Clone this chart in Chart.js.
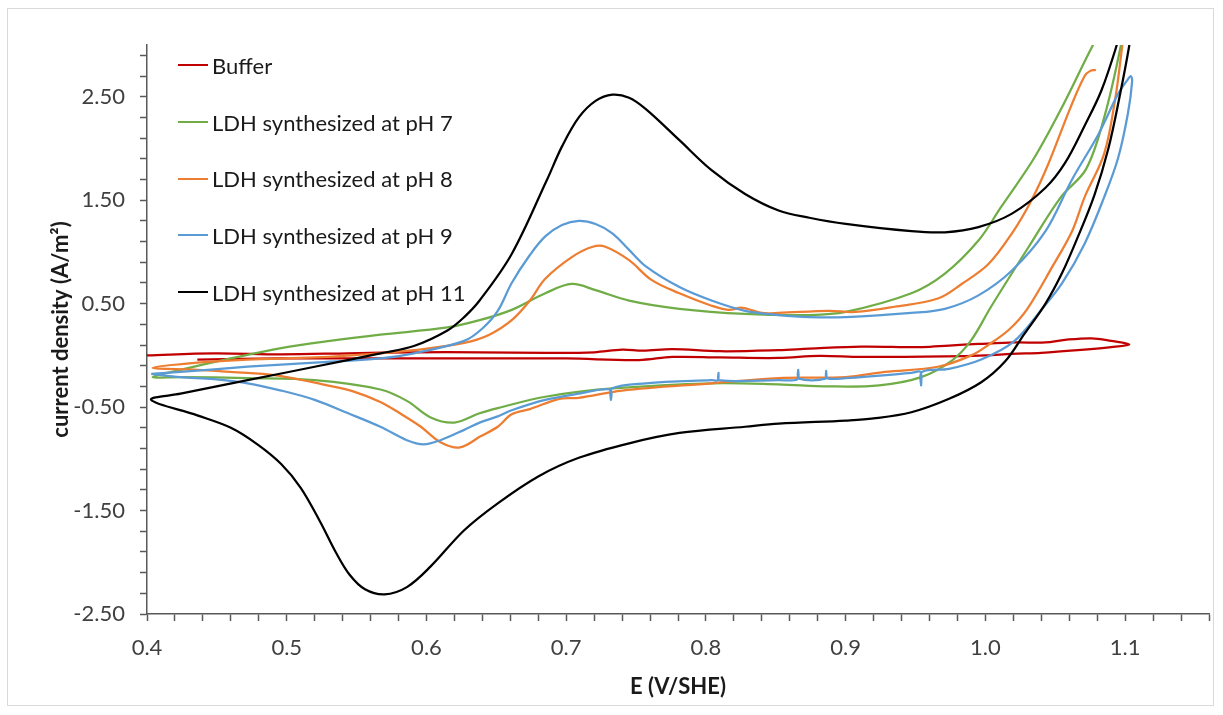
<!DOCTYPE html>
<html>
<head>
<meta charset="utf-8">
<script src="https://cdn.jsdelivr.net/npm/chart.js@4.4.1/dist/chart.umd.min.js"></script>
<style>
    body { margin: 0; background: #fff; }
    #wrap { position: relative; width: 1223px; height: 715px; font-family: Lato, "Open Sans", sans-serif; }
    #frame { position: absolute; left: 7px; top: 8px; width: 1207px; height: 698px; border: 1px solid #d9d9d9; box-sizing: border-box; }
    #cv { position: absolute; left: 0; top: 0; }
    #legend { position: absolute; left: 178px; top: 37px; }
    .item { display: flex; align-items: center; height: 56.7px; font-size: 22px; color: #1a1a1a; }
    .swatch { width: 30px; height: 2px; margin-right: 4px; }
</style>
</head>
<body>
<div id="wrap">
    <div id="frame"></div>
    <canvas id="cv" width="1223" height="715"></canvas>
    <div id="legend"></div>
</div>
<script>
// Cyclic voltammograms, current density vs E (V/SHE)

const seriesNames = ['Buffer', 'LDH synthesized at pH 7', 'LDH synthesized at pH 8', 'LDH synthesized at pH 9', 'LDH synthesized at pH 11'];
const seriesColors = ['#C00000', '#70AD47', '#ED7D31', '#5B9BD5', '#000000'];

const xLabelTicks = [0.4, 0.5, 0.6, 0.7, 0.8, 0.9, 1.0, 1.1];
const yLabelTicks = [-2.5, -1.5, -0.5, 0.5, 1.5, 2.5];

// [E, j] pairs traced along each loop
const bufferLoop = [
    [0.436, -0.04], [0.496, -0.03], [0.567, -0.03], [0.638, -0.03], [0.70, -0.03], [0.752, -0.045],
    [0.776, -0.015], [0.81, -0.02], [0.852, -0.025], [0.881, -0.005], [0.911, -0.015], [0.971, -0.01],
    [1.0, 0.0], [1.019, 0.015], [1.04, 0.025], [1.066, 0.05], [1.09, 0.08], [1.103, 0.106],
    [1.09, 0.14], [1.076, 0.165], [1.057, 0.15], [1.043, 0.125], [1.021, 0.125], [0.995, 0.11],
    [0.974, 0.095], [0.955, 0.08], [0.911, 0.085], [0.874, 0.065], [0.852, 0.05], [0.81, 0.04],
    [0.776, 0.06], [0.755, 0.045], [0.74, 0.055], [0.72, 0.03], [0.685, 0.025], [0.638, 0.03],
    [0.591, 0.03], [0.544, 0.02], [0.496, 0.01], [0.448, 0.02], [0.40, 0.0]
];

const ph7Loop = [
    [1.100, 3.3], [1.097, 3.0], [1.085, 2.3], [1.072, 1.8], [1.054, 1.53], [1.031, 1.05],
    [1.004, 0.47], [0.990, 0.15], [0.976, -0.05], [0.954, -0.21], [0.924, -0.29], [0.888, -0.30],
    [0.852, -0.28], [0.804, -0.27], [0.733, -0.32], [0.685, -0.40], [0.651, -0.51], [0.638, -0.56],
    [0.62, -0.65], [0.603, -0.60], [0.586, -0.44], [0.567, -0.33], [0.52, -0.24], [0.472, -0.22],
    [0.424, -0.21], [0.404, -0.21],
    [0.424, -0.14], [0.46, -0.03], [0.496, 0.07], [0.531, 0.14], [0.567, 0.20], [0.615, 0.27],
    [0.638, 0.34], [0.661, 0.44], [0.685, 0.60], [0.704, 0.69], [0.721, 0.63], [0.745, 0.53],
    [0.781, 0.45], [0.828, 0.40], [0.874, 0.39], [0.90, 0.42], [0.947, 0.60], [0.971, 0.79],
    [0.995, 1.11], [1.011, 1.43], [1.035, 1.91], [1.056, 2.43], [1.077, 3.0], [1.09, 3.3]
];

const ph8Loop = [
    [1.101, 3.3], [1.098, 3.0], [1.093, 2.49], [1.085, 1.95], [1.071, 1.53], [1.062, 1.2],
    [1.048, 0.86], [1.030, 0.45], [1.017, 0.25], [1.002, 0.10], [0.99, 0.0], [0.966, -0.11],
    [0.928, -0.16], [0.90, -0.21], [0.852, -0.22], [0.804, -0.27], [0.74, -0.34], [0.709, -0.41],
    [0.695, -0.42], [0.674, -0.52], [0.661, -0.57], [0.651, -0.69], [0.639, -0.78], [0.624, -0.89],
    [0.61, -0.84], [0.596, -0.69], [0.581, -0.56], [0.567, -0.45], [0.548, -0.35], [0.529, -0.29],
    [0.496, -0.20], [0.472, -0.17], [0.436, -0.14], [0.404, -0.12],
    [0.436, -0.07], [0.472, -0.04], [0.52, -0.02], [0.567, 0.02], [0.591, 0.05], [0.627, 0.12],
    [0.645, 0.20], [0.661, 0.34], [0.674, 0.53], [0.685, 0.74], [0.704, 0.95],
    [0.719, 1.05], [0.728, 1.05], [0.745, 0.92], [0.761, 0.73], [0.781, 0.60], [0.804, 0.48],
    [0.816, 0.44], [0.826, 0.46], [0.84, 0.41], [0.852, 0.41], [0.888, 0.43], [0.907, 0.42],
    [0.935, 0.47], [0.966, 0.55], [0.983, 0.69], [1.002, 0.88], [1.019, 1.18], [1.033, 1.50],
    [1.045, 1.85], [1.061, 2.40], [1.071, 2.70], [1.075, 2.75], [1.079, 2.76]
];

const ph9Loop = [
    [0.403, -0.18], [0.424, -0.16], [0.472, -0.11], [0.52, -0.07], [0.567, -0.03], [0.591, 0.02],
    [0.627, 0.14], [0.640, 0.26], [0.651, 0.43], [0.661, 0.70], [0.674, 0.97], [0.685, 1.15],
    [0.697, 1.26], [0.709, 1.30], [0.721, 1.27], [0.733, 1.18], [0.745, 1.02], [0.757, 0.86],
    [0.781, 0.66], [0.804, 0.53], [0.828, 0.43], [0.852, 0.39], [0.874, 0.37], [0.90, 0.37],
    [0.947, 0.41], [0.971, 0.45], [0.995, 0.58], [1.019, 0.82], [1.043, 1.20], [1.062, 1.70],
    [1.081, 2.14], [1.095, 2.53], [1.101, 2.65], [1.104, 2.70],
    [1.105, 2.65], [1.102, 2.34], [1.095, 1.91], [1.085, 1.53], [1.071, 1.08], [1.055, 0.70],
    [1.040, 0.44], [1.020, 0.13], [0.997, -0.04], [0.974, -0.13], [0.9545, -0.16], [0.954, -0.29],
    [0.9535, -0.16], [0.947, -0.17], [0.90, -0.22], [0.8865, -0.22], [0.886, -0.15], [0.8855, -0.225],
    [0.8665, -0.225], [0.866, -0.14], [0.8655, -0.23], [0.852, -0.24], [0.8095, -0.24], [0.809, -0.17],
    [0.8085, -0.24], [0.804, -0.24], [0.757, -0.27], [0.7325, -0.32], [0.732, -0.43], [0.7315, -0.33],
    [0.709, -0.37], [0.685, -0.43], [0.661, -0.53], [0.651, -0.59], [0.638, -0.65], [0.627, -0.72],
    [0.61, -0.82], [0.598, -0.86], [0.586, -0.82], [0.567, -0.69], [0.544, -0.56], [0.52, -0.43],
    [0.496, -0.34], [0.472, -0.27], [0.448, -0.23], [0.424, -0.21], [0.403, -0.18]
];

const ph11Loop = [
    [1.106, 3.3], [1.103, 3.0], [1.096, 2.5], [1.088, 2.0], [1.078, 1.55], [1.066, 1.14],
    [1.055, 0.80], [1.043, 0.50], [1.028, 0.21], [1.014, -0.06], [0.997, -0.26], [0.974, -0.42],
    [0.947, -0.55], [0.92, -0.61], [0.90, -0.63], [0.852, -0.66], [0.828, -0.69], [0.781, -0.75],
    [0.745, -0.85], [0.709, -0.99], [0.68, -1.17], [0.651, -1.43], [0.627, -1.69], [0.603, -2.04],
    [0.586, -2.24], [0.570, -2.31], [0.556, -2.26], [0.545, -2.12], [0.535, -1.90], [0.524, -1.61],
    [0.51, -1.28], [0.496, -1.05], [0.479, -0.86], [0.46, -0.70], [0.436, -0.58], [0.403, -0.43],
    [0.424, -0.37], [0.472, -0.24], [0.52, -0.11], [0.567, 0.02], [0.591, 0.09], [0.615, 0.24],
    [0.627, 0.37], [0.638, 0.53], [0.661, 0.98], [0.686, 1.69], [0.697, 2.02], [0.709, 2.30],
    [0.721, 2.46], [0.733, 2.52], [0.745, 2.49], [0.757, 2.38], [0.781, 2.08], [0.804, 1.79],
    [0.828, 1.56], [0.852, 1.40], [0.874, 1.33], [0.90, 1.27], [0.947, 1.20], [0.971, 1.19],
    [0.995, 1.24], [1.019, 1.37], [1.043, 1.62], [1.057, 1.86], [1.071, 2.22], [1.083, 2.56],
    [1.094, 3.0], [1.10, 3.3]
];

const loops = [bufferLoop, ph7Loop, ph8Loop, ph9Loop, ph11Loop];

const FONT = 'Lato, "Open Sans", sans-serif';
const AXIS_COLOR = '#595959';

function sameValue(a, b) {
    return Math.abs(a - b) < 1e-6;
}

function buildTicks(min, max, step) {
    const ticks = [];
    const n = Math.round((max - min) / step);
    for (let i = 0; i <= n; i++) {
        ticks.push({ value: Math.round((min + i * step) * 1000) / 1000 });
    }
    return ticks;
}

// HTML legend inside the plot area
const legendEl = document.getElementById('legend');
seriesNames.forEach((name, i) => {
    const row = document.createElement('div');
    row.className = 'item';
    row.innerHTML = `<span class="swatch" style="background:${seriesColors[i]}"></span><span>${name}</span>`;
    legendEl.appendChild(row);
});

const datasets = loops.map((loop, i) => ({
    label: seriesNames[i],
    data: loop.map(p => ({ x: p[0], y: p[1] })),
    borderColor: seriesColors[i],
    backgroundColor: seriesColors[i],
    borderWidth: 2.25,
    showLine: true,
    pointRadius: 0,
    tension: 0.35,
    order: loops.length - 1 - i // later series drawn on top
}));

const ctx = document.getElementById('cv').getContext('2d');
new Chart(ctx, {
    type: 'scatter',
    data: { datasets },
    options: {
        responsive: false,
        animation: false,
        devicePixelRatio: 1,
        layout: { padding: { top: 45, right: 12, left: 0, bottom: 0 } },
        plugins: {
            legend: { display: false },
            tooltip: { enabled: false }
        },
        scales: {
            x: {
                type: 'linear',
                min: 0.4,
                max: 1.16,
                afterFit: s => { s.height = 101; },
                afterBuildTicks: s => { s.ticks = buildTicks(0.4, 1.16, 0.02); },
                ticks: {
                    autoSkip: false,
                    maxRotation: 0,
                    padding: 14,
                    color: '#404040',
                    font: { family: FONT, size: 22 },
                    callback: v => xLabelTicks.some(t => sameValue(t, v)) ? v.toFixed(1) : ''
                },
                grid: { drawOnChartArea: false, tickLength: 7, tickColor: AXIS_COLOR, tickWidth: 1.5 },
                border: { color: AXIS_COLOR, width: 1.5 },
                title: {
                    display: true,
                    text: 'E (V/SHE)',
                    color: '#1a1a1a',
                    font: { family: FONT, size: 22, weight: 'bold' },
                    padding: { top: 0, bottom: 15 }
                }
            },
            y: {
                type: 'linear',
                min: -2.5,
                max: 3.0,
                afterFit: s => { s.width = 147; },
                afterBuildTicks: s => { s.ticks = buildTicks(-2.5, 2.9, 0.2); },
                ticks: {
                    autoSkip: false,
                    padding: 15,
                    color: '#404040',
                    font: { family: FONT, size: 22 },
                    callback: v => yLabelTicks.some(t => sameValue(t, v)) ? v.toFixed(2) : ''
                },
                grid: { drawOnChartArea: false, tickLength: 7, tickColor: AXIS_COLOR, tickWidth: 1.5 },
                border: { color: AXIS_COLOR, width: 1.5 },
                title: {
                    display: true,
                    text: 'current density (A/m²)',
                    color: '#1a1a1a',
                    font: { family: FONT, size: 22, weight: 'bold' },
                    padding: { top: 48, bottom: 0 }
                }
            }
        }
    }
});
</script>
</body>
</html>
